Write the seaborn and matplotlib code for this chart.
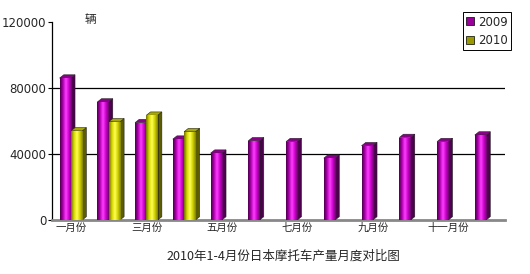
import numpy as np
import pandas as pd
import matplotlib
matplotlib.use("Agg")
import matplotlib.pyplot as plt
from matplotlib.patches import Polygon, Patch
from matplotlib.colors import LinearSegmentedColormap
import seaborn as sns

months = ["一月份", "二月份", "三月份", "四月份", "五月份", "六月份",
          "七月份", "八月份", "九月份", "十月份", "十一月份", "十二月份"]
v2009 = [86000, 71500, 59000, 49000, 40500, 48000, 47500, 37500, 45000, 50000, 47500, 51500]
v2010 = [54000, 59500, 63500, 53500, np.nan, np.nan, np.nan, np.nan, np.nan, np.nan, np.nan, np.nan]
series = ["2009", "2010"]
yticks = [0, 40000, 80000, 120000]
title = "2010年1-4月份日本摩托车产量月度对比图"
unit = "辆"

df = pd.DataFrame({
    "month": months * 2,
    "year": [series[0]] * 12 + [series[1]] * 12,
    "value": v2009 + v2010,
})

sns.set_theme(style="white")
plt.rcParams["font.family"] = ["Noto Sans CJK SC", "DejaVu Sans"]

fig = plt.figure(figsize=(5.3, 2.74), dpi=100)
ax = fig.add_axes([52 / 530, 1 - 220 / 274, 453 / 530, 198 / 274])

pal = {"2009": "#990099", "2010": "#CCCC00"}
sns.barplot(data=df, x="month", y="value", hue="year", order=months,
            hue_order=series, palette=pal, width=0.6, dodge=True,
            legend=False, ax=ax, edgecolor="none", linewidth=0, zorder=3)

ax.set_xlim(-0.5, 11.5)
ax.set_ylim(0, 120000)

styles = {
    "2009": dict(grad=["#4a004a", "#b000b0", "#ff40ff", "#cc00cc", "#660066"],
                 side="#4d004d", top="#8a008a"),
    "2010": dict(grad=["#6e6e00", "#d8d800", "#ffff55", "#d0d000", "#808000"],
                 side="#5c5c00", top="#a8a800"),
}
cmaps = {k: LinearSegmentedColormap.from_list(k, v["grad"]) for k, v in styles.items()}

dx = 0.11
dy = 2000
n = len(months)
patches = list(ax.patches)
for i, p in enumerate(patches):
    if i >= 2 * n:
        continue
    key = series[i // n]
    h = p.get_height()
    if not np.isfinite(h) or h <= 0:
        continue
    x0, w = p.get_x(), p.get_width()
    st = styles[key]
    side = Polygon([[x0 + w, 0], [x0 + w + dx, dy], [x0 + w + dx, h + dy], [x0 + w, h]],
                   closed=True, facecolor=st["side"], edgecolor="#222222", lw=0.4, zorder=3)
    ax.add_patch(side)
    topf = Polygon([[x0, h], [x0 + dx, h + dy], [x0 + w + dx, h + dy], [x0 + w, h]],
                   closed=True, facecolor=st["top"], edgecolor="#222222", lw=0.4, zorder=3)
    ax.add_patch(topf)
    grad = np.linspace(0, 1, 64).reshape(1, -1)
    im = ax.imshow(grad, extent=[x0, x0 + w, 0, h], aspect="auto",
                   cmap=cmaps[key], zorder=4, interpolation="bilinear")
    im.set_clip_path(p)
    p.set_edgecolor("#222222")
    p.set_linewidth(0.4)
    p.set_zorder(4)
    p.set_facecolor("none")
ax.set_xlim(-0.5, 11.5)
ax.set_ylim(0, 120000)

for yv in yticks[1:3]:
    ax.axhline(yv, color="black", lw=0.9, zorder=1)

ax.set_yticks(yticks)
ax.set_yticklabels([str(v) for v in yticks], fontsize=8.5, family="DejaVu Sans")
ax.set_xticks(range(0, 12, 2))
ax.set_xticklabels([months[i] for i in range(0, 12, 2)], fontsize=7.5)
ax.set_xticks(np.arange(-0.5, 12, 1), minor=True)
ax.tick_params(axis="x", which="major", length=0, pad=2)
ax.tick_params(axis="x", which="minor", length=3, width=0.8, color="black", direction="out")
ax.tick_params(axis="y", length=3, width=0.8, color="black", direction="out", left=True, pad=1)
ax.set_xlabel("")
ax.set_ylabel("")

for s in ["top", "right"]:
    ax.spines[s].set_visible(False)
ax.spines["left"].set_color("black")
ax.spines["left"].set_linewidth(0.9)
ax.spines["bottom"].set_color("#888888")
ax.spines["bottom"].set_linewidth(2)

fig.text(90 / 530, 1 - 19 / 274, unit, fontsize=8.5, ha="center", va="center")
fig.text(283 / 530, 1 - 256 / 274, title, fontsize=9, ha="center", va="center")

handles = [Patch(facecolor="#990099", edgecolor="black", lw=0.5),
           Patch(facecolor="#999900", edgecolor="black", lw=0.5)]
leg = fig.legend(handles, series, loc="upper right",
                 bbox_to_anchor=(511 / 530, 1 - 12 / 274),
                 prop={"size": 8.5, "family": "DejaVu Sans"},
                 frameon=True, fancybox=False, framealpha=1, edgecolor="black",
                 handlelength=0.65, handleheight=0.65, handletextpad=0.3,
                 borderpad=0.3, labelspacing=0.45, borderaxespad=0)
leg.get_frame().set_linewidth(0.7)

fig.savefig("out.png", dpi=100)
